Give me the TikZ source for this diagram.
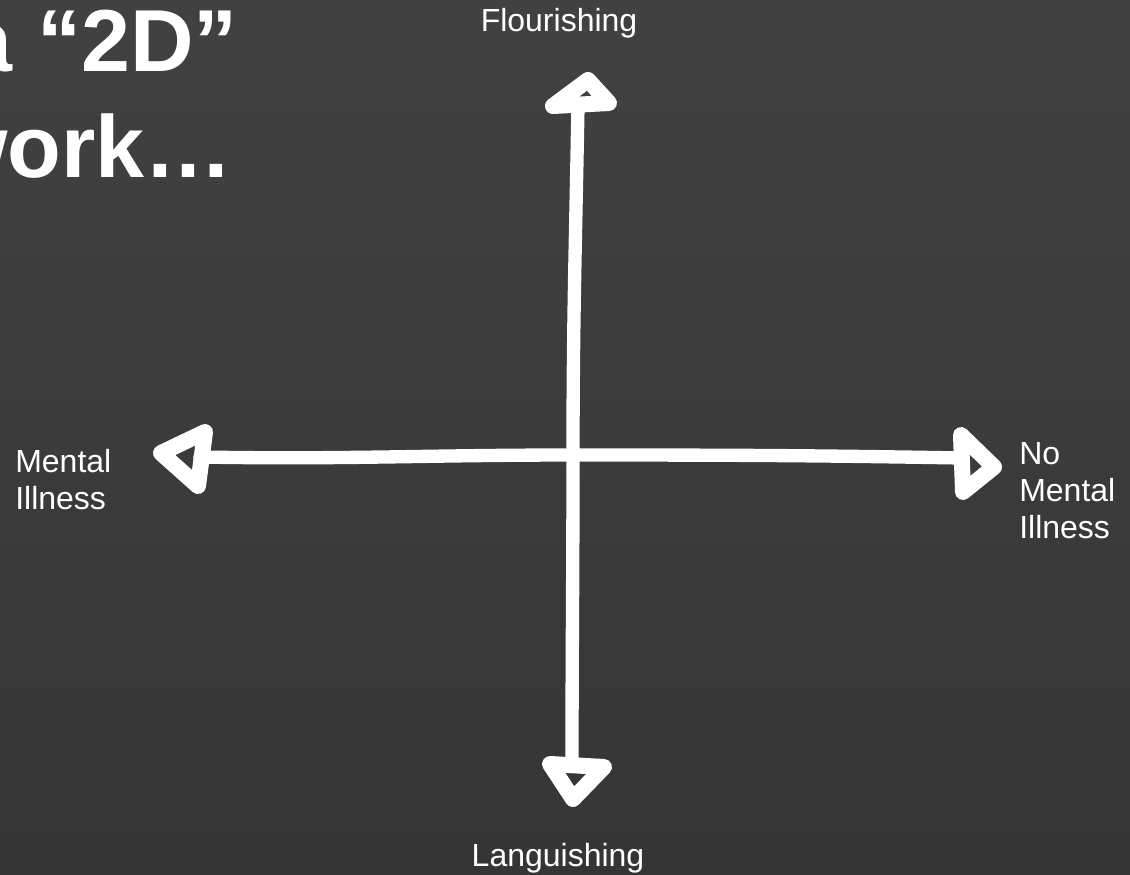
\documentclass[tikz,border=0pt]{standalone}
\usepackage{fontspec}
\setmainfont{Liberation Sans}
\usetikzlibrary{calc}
\definecolor{board}{HTML}{3C3C3C}
\definecolor{boardtop}{HTML}{414141}
\definecolor{boardbot}{HTML}{353535}
\definecolor{chalk}{HTML}{FFFFFF}
\tikzset{lbl/.style={text=chalk,inner sep=0pt,align=left,font=\fontsize{24}{27.5}\selectfont},
  ttl/.style={text=chalk,inner sep=0pt,font=\fontsize{66}{78}\selectfont\bfseries},
  axis/.style={draw=chalk,line width=10pt,line cap=round},
  head/.style={draw=chalk,line width=12pt,line join=round}}

\begin{document}
\begin{tikzpicture}[x=0.75pt,y=-0.75pt]
\useasboundingbox (0,0) rectangle (1130,874);
\clip (0,0) rectangle (1130,874);
\shade[top color=boardtop,bottom color=boardbot] (0,0) rectangle (1130,874);
% title, cut by the left edge
\node[ttl,anchor=base east] (t1) at (238,72) {a “2D”};
\node[ttl,anchor=base east] (t2) at (233,177) {work…};
% axes
\coordinate (ctr) at (573,455);
\coordinate (vtop) at (578,104);
\coordinate (vbot) at (572,766);
\coordinate (hlft) at (200,457);
\coordinate (hrgt) at (962,458);
\draw[axis] (vtop) to[out=-91,in=90] (ctr) to[out=-90,in=90] (vbot);
\draw[axis] (hlft) to[out=-1,in=180] (ctr) to[out=0,in=179] (hrgt);
% open heads
\draw[head] (588,80) -- (553,106) -- (609,103) -- cycle;
\draw[head] (550,764) -- (604,767) -- (573,799) -- cycle;
\draw[head] (161,453) -- (205,432) -- (198,486) -- cycle;
\draw[head] (961,435) -- (994,467) -- (963,492) -- cycle;
% labels
\node[lbl,anchor=base] (up) at (559,32) {Flourishing};
\node[lbl,anchor=base] (dn) at (558,866) {Languishing};
\node[lbl,anchor=base west] (lf) at (15,509) {Mental\\Illness};
\node[lbl,anchor=base west] (rt) at (1019,538) {No\\Mental\\Illness};
\end{tikzpicture}
\end{document}
